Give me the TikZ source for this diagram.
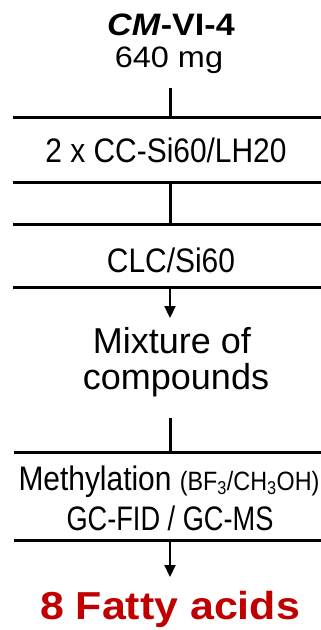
\documentclass[tikz,border=0pt]{standalone}
\usepackage{fontspec}
\setmainfont{Liberation Sans}
\newfontfamily\widef[FakeStretch=1.1]{Liberation Sans}
\newfontfamily\narrowf[FakeStretch=0.88]{Liberation Sans}
\newfontfamily\narrowg[FakeStretch=0.8]{Liberation Sans}
\definecolor{darkred}{HTML}{C00000}
\usetikzlibrary{arrows.meta}
\begin{document}
\begin{tikzpicture}[x=1pt,y=-1pt,
  lbl/.style={anchor=base,inner sep=0pt,align=center},
  rule/.style={line width=3pt},
  conn/.style={line width=3pt},
  arr/.style={line width=2.2pt,-{Triangle[length=12pt,width=11pt]}}]
\useasboundingbox (0,0) rectangle (321,630);
% texts
\node[lbl,font=\widef\bfseries\fontsize{31}{31}\selectfont] (title) at (171,35) {\textit{CM}-VI-4};
\node[lbl,font=\widef\fontsize{29.5}{29.5}\selectfont] (mg) at (169,67) {640 mg};
\node[lbl,font=\narrowf\fontsize{34}{34}\selectfont] (s1) at (166,162) {2 x CC-Si60/LH20};
\node[lbl,font=\narrowf\fontsize{34}{34}\selectfont] (s2) at (171,272) {CLC/Si60};
\node[lbl,font=\fontsize{36}{37}\selectfont] (mix) at (172,353) {Mixture of};
\node[lbl,font=\fontsize{36}{37}\selectfont] (comp) at (176,389) {compounds};
\node[lbl,font=\narrowf\fontsize{34}{34}\selectfont] (s3) at (169,490) {Methylation {\fontsize{26.5}{26.5}\selectfont(BF\textsubscript{3}/CH\textsubscript{3}OH)}};
\node[lbl,font=\narrowg\fontsize{34}{34}\selectfont] (s3b) at (170,530) {GC-FID / GC-MS};
\node[lbl,font=\widef\bfseries\fontsize{39}{39}\selectfont,text=darkred] (fa) at (170,619) {8 Fatty acids};
% rules (box edges)
\coordinate (r1l) at (13,117); \coordinate (r1r) at (321,117);
\coordinate (r2l) at (13,182); \coordinate (r2r) at (321,182);
\coordinate (r3l) at (13,224); \coordinate (r3r) at (321,224);
\coordinate (r4l) at (13,287); \coordinate (r4r) at (321,287);
\coordinate (r5l) at (14,452); \coordinate (r5r) at (321,452);
\coordinate (r6l) at (14,540); \coordinate (r6r) at (321,540);
\foreach \i in {1,...,6} {\draw[rule] (r\i l) -- (r\i r);}
% connectors
\coordinate (c1a) at (170,88);  \coordinate (c1b) at (170,117);
\coordinate (c2a) at (170,182); \coordinate (c2b) at (170,224);
\coordinate (c3a) at (170,287); \coordinate (c3b) at (170,318);
\coordinate (c4a) at (170,418); \coordinate (c4b) at (170,452);
\coordinate (c5a) at (170,540); \coordinate (c5b) at (170,577);
\draw[conn] (c1a) -- (c1b);
\draw[conn] (c2a) -- (c2b);
\draw[arr] (c3a) -- (c3b);
\draw[conn] (c4a) -- (c4b);
\draw[arr] (c5a) -- (c5b);
\end{tikzpicture}
\end{document}
